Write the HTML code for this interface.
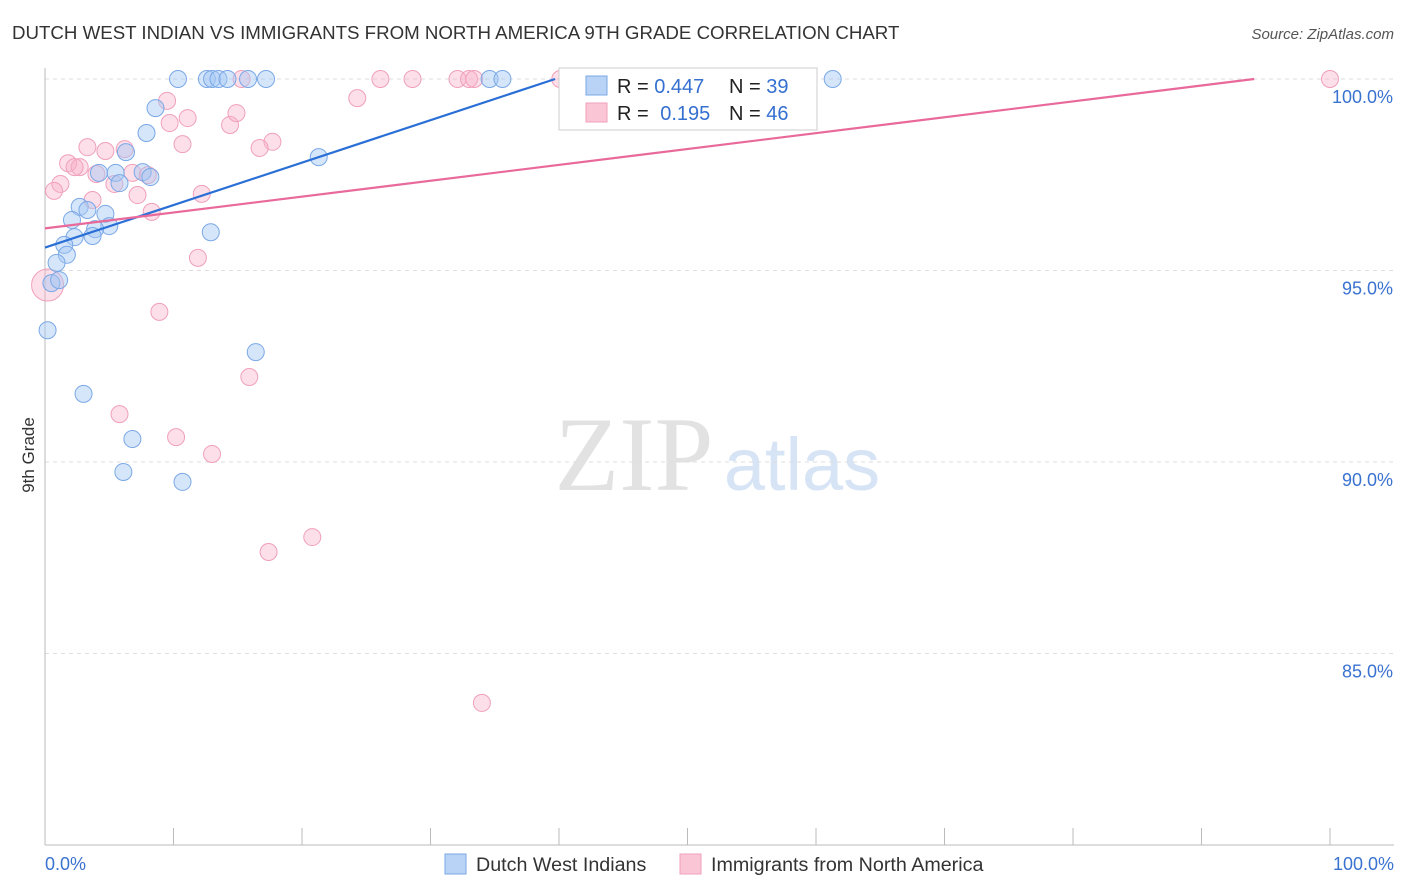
<!DOCTYPE html>
<html><head><meta charset="utf-8"><style>
body{margin:0;background:#fff;font-family:"Liberation Sans",sans-serif;}
svg{display:block}
</style></head><body>
<svg id="chart" width="1406" height="892">
<text x="12" y="39" font-size="18.7" fill="#333">DUTCH WEST INDIAN VS IMMIGRANTS FROM NORTH AMERICA 9TH GRADE CORRELATION CHART</text>
<text x="1394" y="39" font-size="15" fill="#555" font-style="italic" text-anchor="end">Source: ZipAtlas.com</text>
<text transform="translate(34,455) rotate(-90)" font-size="17" fill="#333" text-anchor="middle">9th Grade</text>
<g><text x="634" y="490" font-size="106" font-family="Liberation Serif,serif" fill="#e2e2e2" text-anchor="middle">ZIP</text><text x="802" y="490" font-size="74" fill="#d6e4f5" text-anchor="middle">atlas</text></g>
<g id="grid"></g><g id="axes"></g><g id="pts"></g><g id="lines"></g>
<g>
<rect x="559" y="68" width="258" height="62" fill="#fff" stroke="#ccc"/>
<rect x="586" y="76" width="21" height="19" fill="#b8d3f5" stroke="#7aa8e6"/>
<rect x="586" y="103" width="21" height="19" fill="#fac5d5" stroke="#f0a0ba"/>
<text x="617" y="93" font-size="20" fill="#222">R = <tspan fill="#3570d0">0.447</tspan></text>
<text x="729" y="93" font-size="20" fill="#222">N = <tspan fill="#3570d0">39</tspan></text>
<text x="617" y="120" font-size="20" fill="#222">R = <tspan fill="#3570d0" dx="6">0.195</tspan></text>
<text x="729" y="120" font-size="20" fill="#222">N = <tspan fill="#3570d0">46</tspan></text>
</g>
<g>
<rect x="445" y="854" width="21" height="20" fill="#b8d3f5" stroke="#7aa8e6"/>
<text x="476" y="871" font-size="19.7" fill="#333">Dutch West Indians</text>
<rect x="680" y="854" width="21" height="20" fill="#fac5d5" stroke="#f0a0ba"/>
<text x="711" y="871" font-size="19.7" fill="#333">Immigrants from North America</text>
</g>
</svg>
<script>
const blueX=[10.35,12.6,13.0,13.5,14.2,15.8,17.2,34.6,35.6,61.3,8.6,7.9,6.3,21.3,4.2,5.5,7.6,8.2,5.8,2.7,3.3,4.7,2.1,5.0,3.9,3.7,2.3,12.9,1.5,1.7,0.9,0.5,1.1,0.2,16.4,3.0,6.8,6.1,10.7];
const blueY=[100,100,100,100,100,100,100,100,100,100,99.24,98.59,98.09,97.96,97.55,97.55,97.57,97.44,97.28,96.66,96.58,96.48,96.32,96.16,96.08,95.9,95.87,96.0,95.67,95.41,95.2,94.67,94.75,93.44,92.87,91.78,90.6,89.74,89.48];
const pinkX=[9.5,11.1,9.7,14.4,14.9,10.7,17.7,16.7,3.3,4.7,6.2,1.8,2.7,2.3,4.0,6.8,8.0,5.4,1.2,0.7,7.2,3.7,12.2,8.3,24.3,26.1,28.6,32.1,33.0,33.4,40.1,41.6,47.5,50.2,100,15.3,11.9,8.9,15.9,5.8,10.2,13.0,17.4,20.8,34.0,0.2];
const pinkY=[99.43,98.98,98.85,98.8,99.11,98.3,98.36,98.2,98.22,98.12,98.17,97.8,97.7,97.7,97.52,97.55,97.49,97.26,97.26,97.08,96.97,96.84,97.0,96.53,99.5,100,100,100,100,100,100,100,100,100,100,100,95.33,93.92,92.22,91.25,90.65,90.21,87.65,88.04,83.71,94.62];
const blueTrend=[0,95.6,39.7,100];
const pinkTrend=[0,96.1,94.1,100];
const yTicks=[100,95,90,85];
const xTickVals=[0,10,20,30,40,50,60,70,80,90,100];
const NS='http://www.w3.org/2000/svg';
const X=v=>45+v*12.85, Y=v=>79+(100-v)*38.3;
function mk(t,a,p){const e=document.createElementNS(NS,t);for(const k in a)e.setAttribute(k,a[k]);p.appendChild(e);return e;}
const g=document.getElementById('grid'),ax=document.getElementById('axes'),pts=document.getElementById('pts'),ln=document.getElementById('lines');
yTicks.forEach(v=>{const l=mk('line',{x1:45,x2:1394,y1:Y(v),y2:Y(v),stroke:'#ddd','stroke-dasharray':'4,4'},g);


const t=mk('text',{x:1393,y:Y(v)+24,'font-size':18,fill:'#3a72d0','text-anchor':'end'},ax);t.textContent=v.toFixed(1)+'%';

});
mk('line',{x1:45,x2:45,y1:68,y2:845,stroke:'#bbb'},ax);
mk('line',{x1:45,x2:1394,y1:845,y2:845,stroke:'#bbb'},ax);
xTickVals.forEach(v=>{const l=mk('line',{x1:X(v),x2:X(v),y1:828,y2:845,stroke:'#bbb'},ax);

});
[[0,'0.0%','start',45],[100,'100.0%','end',1394]].forEach(d=>{const t=mk('text',{x:d[3],y:870,'font-size':18,fill:'#3a72d0','text-anchor':d[2]},ax);t.textContent=d[1];

});
function dots(xs,ys,fill,stroke,name){xs.forEach((x,i)=>{const r=(name==='pink-point'&&i===xs.length-1)?16:8.5;const c=mk('circle',{cx:X(x),cy:Y(ys[i]),r:r,fill:fill,stroke:stroke,'stroke-width':1},pts);

});}
dots(pinkX,pinkY,'rgba(248,175,200,0.4)','#f0a0ba','pink-point');
dots(blueX,blueY,'rgba(165,200,245,0.45)','#7aa8e6','blue-point');
const b=mk('line',{x1:X(blueTrend[0]),y1:Y(blueTrend[1]),x2:X(blueTrend[2]),y2:Y(blueTrend[3]),stroke:'#2a6fd6','stroke-width':2.2},ln);


const p=mk('line',{x1:X(pinkTrend[0]),y1:Y(pinkTrend[1]),x2:X(pinkTrend[2]),y2:Y(pinkTrend[3]),stroke:'#e8699a','stroke-width':2.2},ln);


</script>
</body></html>
